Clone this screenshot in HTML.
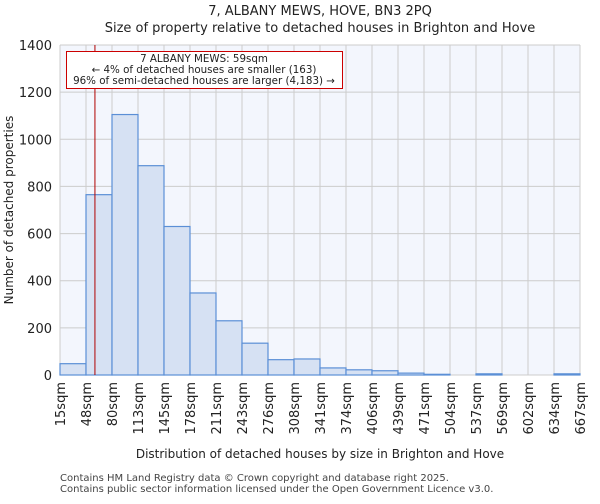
<!DOCTYPE html>
<html><head><meta charset="utf-8"><style>
body{margin:0;background:#fff;font-family:"DejaVu Sans","Liberation Sans",sans-serif;}
svg text{font-family:"DejaVu Sans","Liberation Sans",sans-serif;fill:#222;}
</style></head><body>
<svg id="chart" width="600" height="500" viewBox="0 0 600 500" xmlns="http://www.w3.org/2000/svg">
<text x="320" y="15" text-anchor="middle" font-size="13">7, ALBANY MEWS, HOVE, BN3 2PQ</text>
<text x="320" y="32" text-anchor="middle" font-size="13">Size of property relative to detached houses in Brighton and Hove</text>
<rect x="60" y="45" width="520" height="330" fill="#f3f6fd"/>
<g id="grid"></g><g id="bars"></g><g id="axes"></g>
<text transform="translate(13,210) rotate(-90)" text-anchor="middle" font-size="12">Number of detached properties</text>
<text x="320" y="458" text-anchor="middle" font-size="12">Distribution of detached houses by size in Brighton and Hove</text>
<text x="60" y="481" font-size="10" style="fill:#444">Contains HM Land Registry data © Crown copyright and database right 2025.</text>
<text x="60" y="492" font-size="10" style="fill:#444">Contains public sector information licensed under the Open Government Licence v3.0.</text>
<line id="marker" y1="45" y2="375" stroke="#b00000" stroke-width="1"/>
<rect x="66.5" y="51.5" width="276" height="37" fill="#fff" stroke="#cc0000" stroke-width="1"/>
<text x="204" y="62" text-anchor="middle" font-size="10.3">7 ALBANY MEWS: 59sqm</text>
<text x="204" y="73" text-anchor="middle" font-size="10.3">← 4% of detached houses are smaller (163)</text>
<text x="204" y="84" text-anchor="middle" font-size="10.3">96% of semi-detached houses are larger (4,183) →</text>
</svg>
<script>
const edgeLabels=["15sqm","48sqm","80sqm","113sqm","145sqm","178sqm","211sqm","243sqm","276sqm","308sqm","341sqm","374sqm","406sqm","439sqm","471sqm","504sqm","537sqm","569sqm","602sqm","634sqm","667sqm"];
const counts=[48,765,1105,888,630,348,230,135,65,68,30,22,18,8,3,0,5,0,0,5];
const yTicks=[0,200,400,600,800,1000,1200,1400];
const markerValue=59;
const edgeValues=[15,48,80,113,145,178,211,243,276,308,341,374,406,439,471,504,537,569,602,634,667];
const X0=60,X1=580,Y0=375,Y1=45,YMAX=1400;
const nb=counts.length,bw=(X1-X0)/nb;
const xIdx=i=>X0+i*bw;
const y=v=>Y0-(v/YMAX)*(Y0-Y1);
const NS="http://www.w3.org/2000/svg";
function mk(t,a,p){const e=document.createElementNS(NS,t);for(const k in a)e.setAttribute(k,a[k]);p.appendChild(e);return e;}
const grid=document.getElementById('grid'),bars=document.getElementById('bars'),axes=document.getElementById('axes');
yTicks.forEach(v=>{
 const l=mk('line',{x1:X0,x2:X1,y1:y(v),y2:y(v),stroke:'#cccccc','stroke-width':1},grid);
 
 
 const t=mk('text',{x:X0-8,y:y(v)+5,'text-anchor':'end','font-size':13},axes);
 t.textContent=v;
 
 
});
edgeLabels.forEach((s,i)=>{
 const l=mk('line',{x1:xIdx(i),x2:xIdx(i),y1:Y1,y2:Y0,stroke:'#cccccc','stroke-width':1},grid);
 
 
 const t=mk('text',{transform:`translate(${xIdx(i)+5},382) rotate(-90)`,'text-anchor':'end','font-size':13},axes);
 t.textContent=s;
 
 
});
counts.forEach((c,i)=>{
 if(c<=0)return;
 const r=mk('rect',{x:xIdx(i),y:y(c),width:bw,height:Y0-y(c),fill:'#d6e1f3',stroke:'#5b8fd6','stroke-width':1.2},bars);
 
 
});
let mx=X0;for(let i=0;i<edgeValues.length-1;i++){if(markerValue>=edgeValues[i]&&markerValue<=edgeValues[i+1]){mx=xIdx(i)+bw*(markerValue-edgeValues[i])/(edgeValues[i+1]-edgeValues[i]);}}
const m=document.getElementById('marker');m.setAttribute('x1',mx);m.setAttribute('x2',mx);
</script>
</body></html>
